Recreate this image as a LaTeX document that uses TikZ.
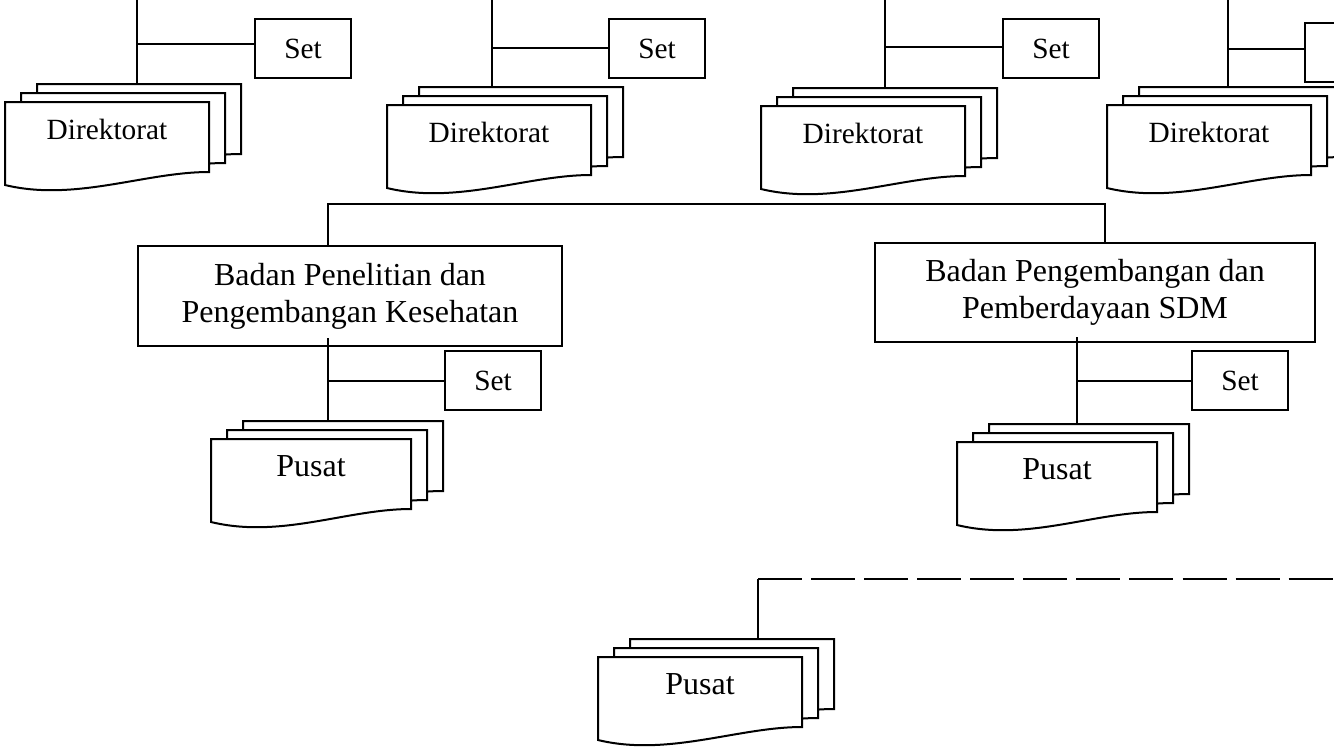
\documentclass[tikz,border=0pt]{standalone}
\usepackage{fontspec}
\setmainfont{Liberation Serif}
\usepackage{tikz}

\begin{document}
\begin{tikzpicture}[
    x=0.375pt, y=-0.375pt,
    line width=0.75pt,
    small text/.style={font=\fontsize{11}{13}\selectfont},
    big text/.style={font=\fontsize{12}{13.9}\selectfont, align=center},
    setbox/.style={draw, small text, inner sep=0pt,
      minimum width=36pt, minimum height=22pt},
    badanbox/.style={draw, big text, inner sep=0pt,
      minimum height=37.3pt},
    dashline/.style={dash pattern=on 16.5pt off 3.4pt},
  ]
  \useasboundingbox (0,0) rectangle (1334,747);
  \clip (0,0) rectangle (1334,747);
  % name, left, top, width, text style, text
  \def\docstack#1#2#3#4#5#6{
    \foreach \i in {2,1,0} {
      \filldraw[fill=white]
        (#2+16*\i, #3-9*\i) -- ++(#4, 0) -- ++(0, 70)
        .. controls (#2+16*\i+#4-64, #3-9*\i+70)
        and (#2+16*\i+70, #3-9*\i+100) ..
        (#2+16*\i, #3-9*\i+83) -- cycle
      ;
    }
    \node[#5] (#1) at (#2+#4/2, #3+27) {#6};
    \coordinate (#1-top) at (#2+32, #3-18);
  }

  \docstack{dir1}{5}{102}{204}{small text}{Direktorat}
  \docstack{dir2}{387}{105}{204}{small text}{Direktorat}
  \docstack{dir3}{761}{106}{204}{small text}{Direktorat}
  \docstack{dir4}{1107}{105}{204}{small text}{Direktorat}
  \docstack{pus1}{211}{439}{200}{big text}{Pusat}
  \docstack{pus2}{957}{442}{200}{big text}{Pusat}
  \docstack{pus3}{598}{657}{204}{big text}{Pusat}

  \node[setbox] (set1) at (303, 48.5) {Set};
  \node[setbox] (set2) at (657, 48.5) {Set};
  \node[setbox] (set3) at (1051, 48.5) {Set};
  \node[setbox] (set4) at (1353, 52.5) {};
  \node[setbox] (set5) at (493, 380.5) {Set};
  \node[setbox] (set6) at (1240, 380.5) {Set};

  \node[badanbox, minimum width=159pt] (bpk) at (350, 296)
    {Badan Penelitian dan\\Pengembangan Kesehatan};
  \node[badanbox, minimum width=165pt] (bsdm) at (1095, 292.5)
    {Badan Pengembangan dan\\Pemberdayaan SDM};

  \coordinate (v1) at (137, 0);
  \coordinate (v2) at (492, 0);
  \coordinate (v3) at (885, 0);
  \coordinate (v4) at (1228, 0);
  \coordinate (j1) at (137, 44);
  \coordinate (j2) at (492, 48);
  \coordinate (j3) at (885, 47);
  \coordinate (j4) at (1228, 49);
  \foreach \n in {1,2,3,4} {
    \draw
      (v\n) -- (v\n |- dir\n-top)
      (j\n) -- (j\n -| set\n.west)
    ;
  }

  \coordinate (bus l) at (328, 204);
  \coordinate (bus r) at (1105, 204);
  \draw
    (bpk.north -| bus l) -- (bus l) -- (bus r) -- (bus r |- bsdm.north)
  ;

  \coordinate (k1) at (328, 338);
  \coordinate (k2) at (1077, 337);
  \draw
    (k1) -- (k1 |- pus1-top)
    (k1 |- set5) -- (set5.west)
    (k2) -- (k2 |- pus2-top)
    (k2 |- set6) -- (set6.west)
  ;

  \coordinate (d0) at (758, 579);
  \coordinate (d1) at (1340, 579);
  \draw[dashline] (d0) -- (d1);
  \draw (d0) -- (d0 |- pus3-top);
\end{tikzpicture}
\end{document}
